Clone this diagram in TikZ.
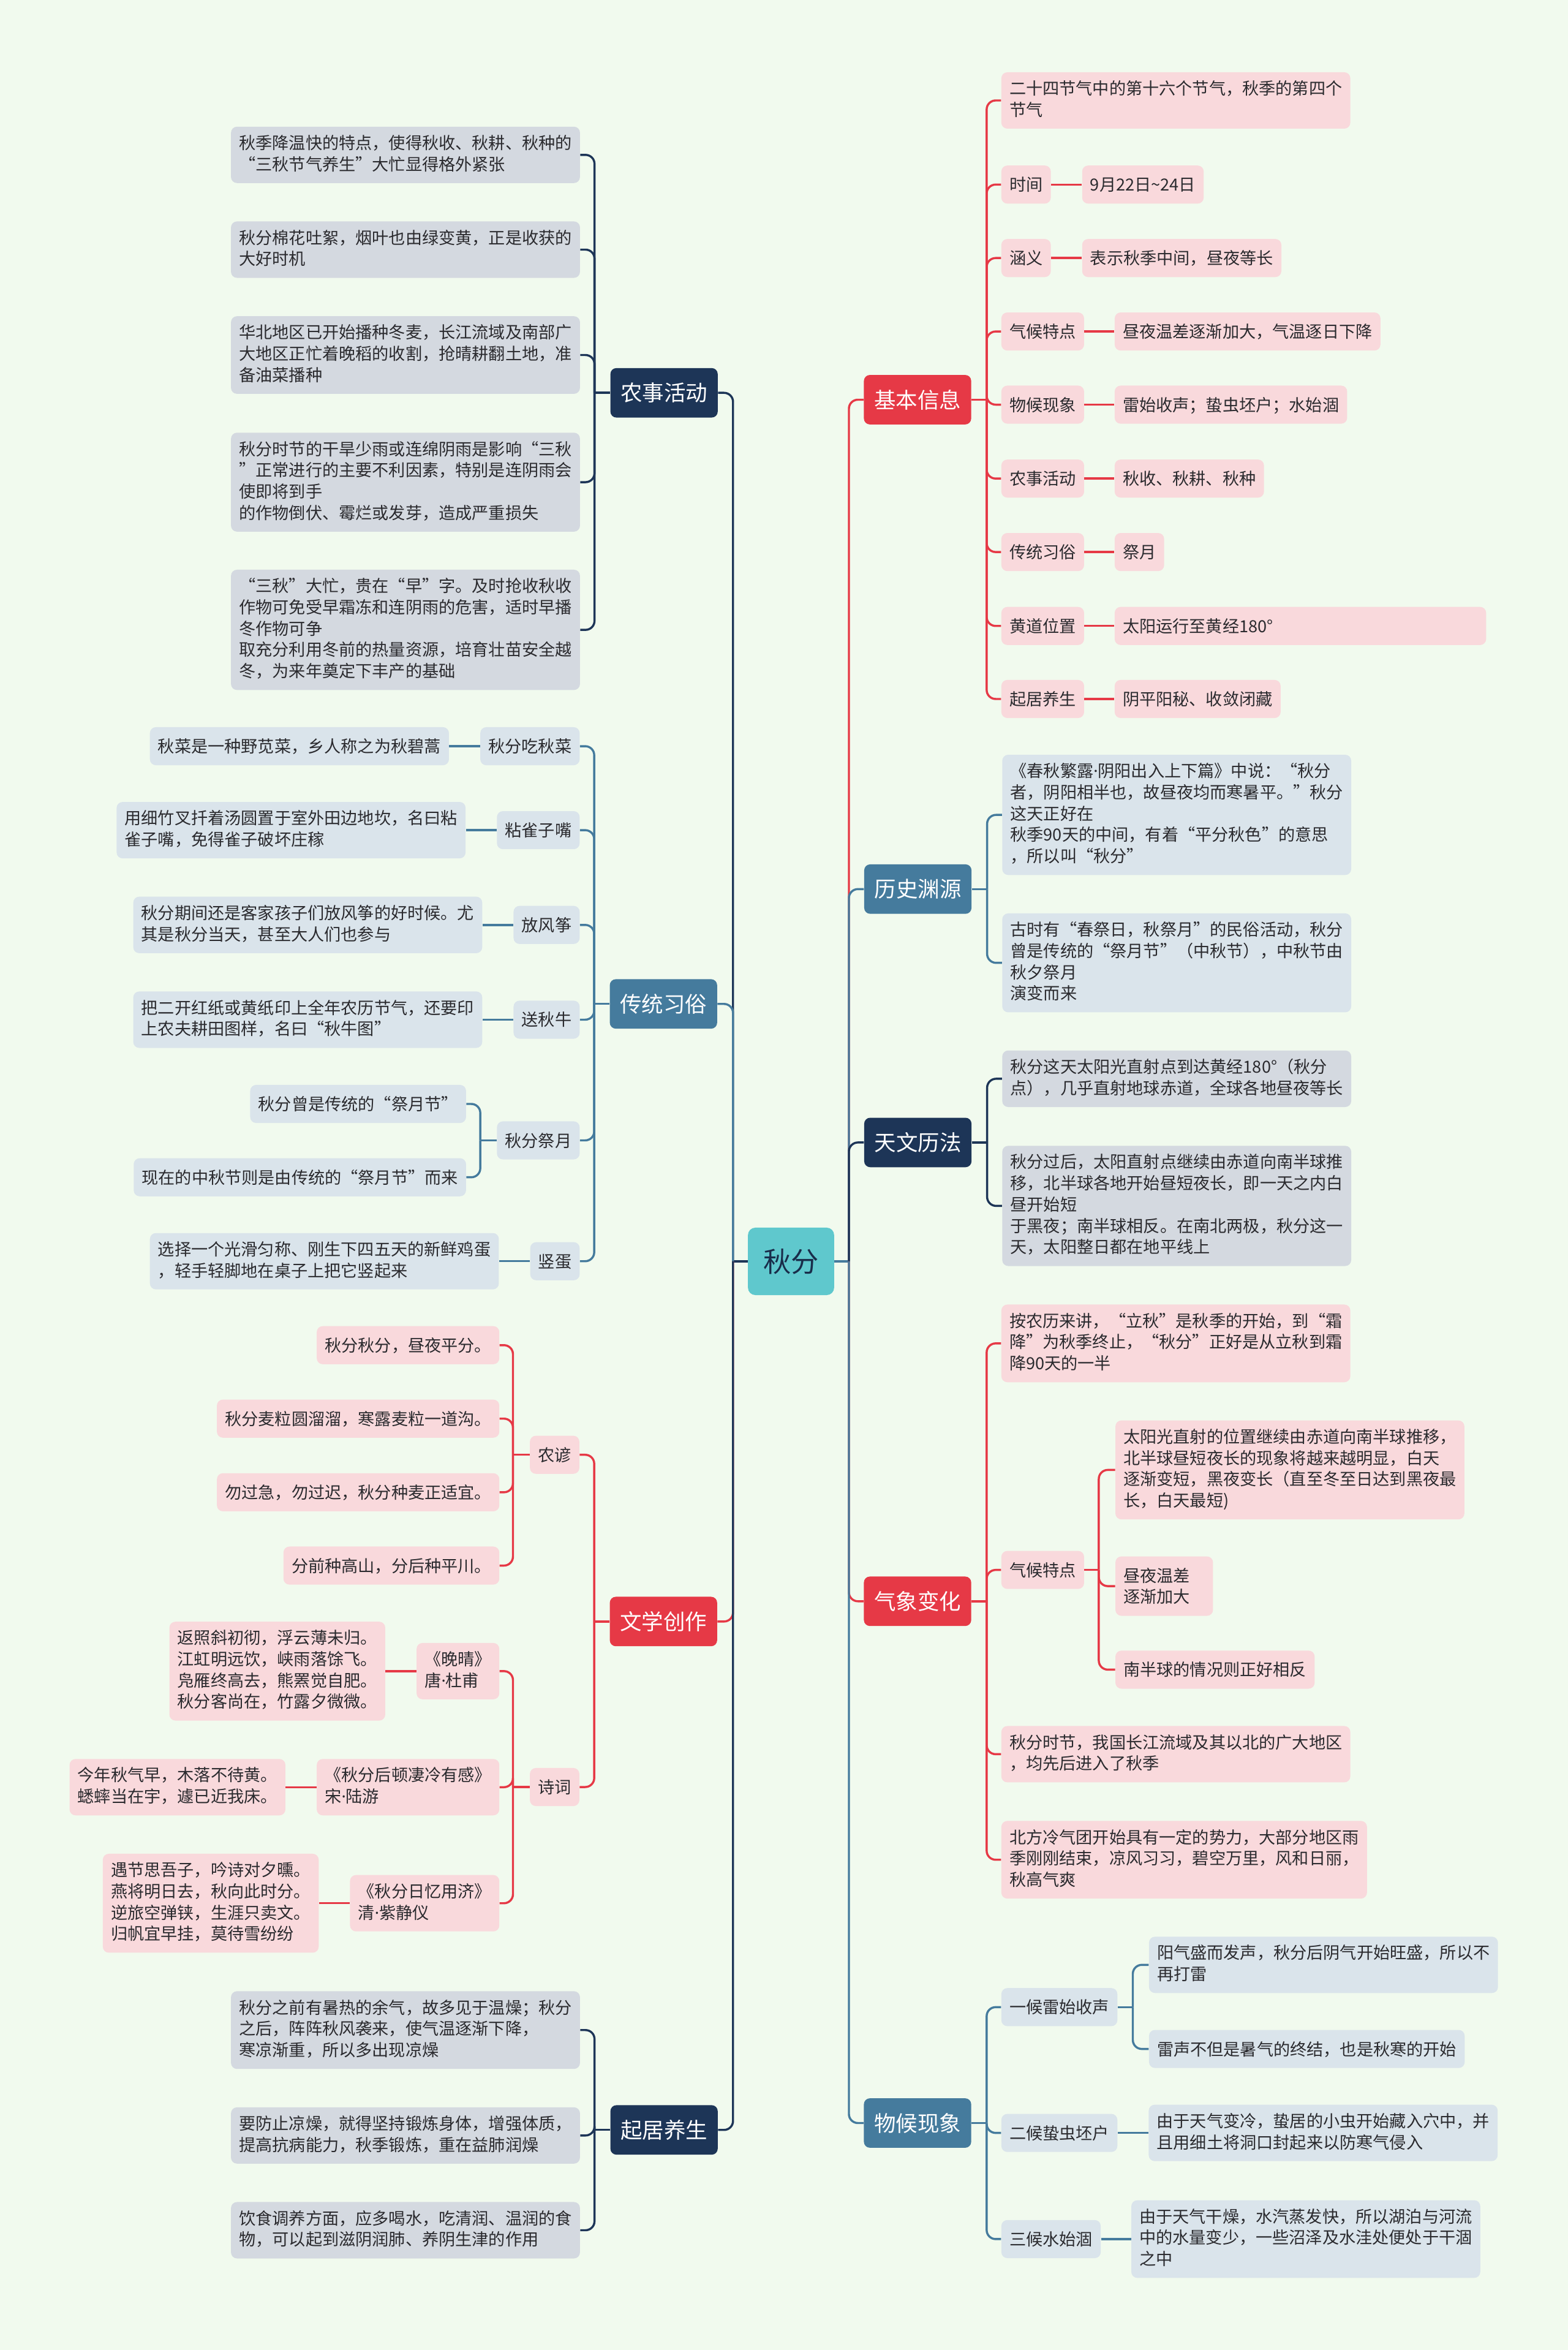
\documentclass[tikz,border=0pt]{standalone}
\usepackage{fontspec}
\setmainfont{Noto Sans CJK SC}
\newfontfamily\latinfont{Noto Sans}
\newcommand\middot{{\latinfont ·}}
\usepackage{tikz}
\usetikzlibrary{positioning}

\definecolor{bgc}{HTML}{F1FAEE}
\definecolor{redc}{HTML}{E63946}
\definecolor{navyc}{HTML}{1D3557}
\definecolor{steelc}{HTML}{457B9D}
\definecolor{rootc}{HTML}{5FC8CD}
\definecolor{pinkc}{HTML}{F9D9DC}
\definecolor{greyc}{HTML}{D4D9E0}
\definecolor{bluec}{HTML}{DAE4EB}
\definecolor{inkc}{HTML}{2A2A2E}

\tikzset{
  root/.style={fill=rootc, text=navyc!85!black, rounded corners=5pt, font=\fontsize{18.5}{22}\selectfont, minimum width=57.5pt, minimum height=45pt, inner sep=0pt},
  topic/.style={rounded corners=4pt, text=white, font=\fontsize{14.5}{17}\selectfont, minimum height=33pt, inner xsep=6.8pt, inner ysep=0pt},
  box/.style={rounded corners=4pt, text=inkc, font=\fontsize{11.1}{14.2}\selectfont, align=left, inner xsep=5.4pt, inner ysep=5.6pt, execute at begin node={\rule{0pt}{11.4pt}}, execute at end node={\rule[-2.8pt]{0pt}{2.8pt}}},
  pinkbox/.style={box, fill=pinkc},
  greybox/.style={box, fill=greyc},
  bluebox/.style={box, fill=bluec},
  redline/.style={draw=redc, line width=1.4pt},
  navyline/.style={draw=navyc, line width=1.4pt},
  steelline/.style={draw=steelc, line width=1.4pt}
}

\begin{document}
\begin{tikzpicture}[x=1pt, y=-1pt]
\fill[bgc] (0,0) rectangle (1046,1567.4);
\useasboundingbox (0,0) rectangle (1046,1567.4);

% centre and main topics
\node[root] (qf) at (527.7,841.3) {秋分};
\node[topic, fill=navyc, anchor=east] (ns) at (479,262) {农事活动};
\node[topic, fill=steelc, anchor=east] (ct) at (478.6,669.6) {传统习俗};
\node[topic, fill=redc, anchor=east] (wx) at (478.6,1081.5) {文学创作};
\node[topic, fill=navyc, anchor=east] (qj) at (479,1420.6) {起居养生};
\node[topic, fill=redc, anchor=west] (jb) at (576.1,266.6) {基本信息};
\node[topic, fill=steelc, anchor=west] (ls) at (576.3,593) {历史渊源};
\node[topic, fill=navyc, anchor=west] (tw) at (576.3,762) {天文历法};
\node[topic, fill=redc, anchor=west] (qx) at (576.1,1068) {气象变化};
\node[topic, fill=steelc, anchor=west] (wh) at (576.1,1416) {物候现象};

% 农事活动
\node[greybox, anchor=east] (ns1) at (387.1,103.3) {秋季降温快的特点，使得秋收、秋耕、秋种的\\“三秋节气养生”大忙显得格外紧张};
\node[greybox, anchor=east] (ns2) at (387.1,166.5) {秋分棉花吐絮，烟叶也由绿变黄，正是收获的\\大好时机};
\node[greybox, anchor=east] (ns3) at (387.1,236.8) {华北地区已开始播种冬麦，长江流域及南部广\\大地区正忙着晚稻的收割，抢晴耕翻土地，准\\备油菜播种};
\node[greybox, anchor=east] (ns4) at (387.1,321.6) {秋分时节的干旱少雨或连绵阴雨是影响“三秋\\”正常进行的主要不利因素，特别是连阴雨会\\使即将到手\\的作物倒伏、霉烂或发芽，造成严重损失};
\node[greybox, anchor=east] (ns5) at (387.1,420.1) {“三秋”大忙，贵在“早”字。及时抢收秋收\\作物可免受早霜冻和连阴雨的危害，适时早播\\冬作物可争\\取充分利用冬前的热量资源，培育壮苗安全越\\冬，为来年奠定下丰产的基础};

% 传统习俗
\node[bluebox, anchor=east] (ct1) at (386.9,497.7) {秋分吃秋菜};
\node[bluebox, left=20.5pt of ct1] (ct1a) {秋菜是一种野苋菜，乡人称之为秋碧蒿};
\node[bluebox, anchor=east] (ct2) at (386.9,553.7) {粘雀子嘴};
\node[bluebox, left=20.5pt of ct2] (ct2a) {用细竹叉扦着汤圆置于室外田边地坎，名曰粘\\雀子嘴，免得雀子破坏庄稼};
\node[bluebox, anchor=east] (ct3) at (386.9,616.9) {放风筝};
\node[bluebox, left=20.5pt of ct3] (ct3a) {秋分期间还是客家孩子们放风筝的好时候。尤\\其是秋分当天，甚至大人们也参与};
\node[bluebox, anchor=east] (ct4) at (386.9,680.1) {送秋牛};
\node[bluebox, left=20.5pt of ct4] (ct4a) {把二开红纸或黄纸印上全年农历节气，还要印\\上农夫耕田图样，名曰“秋牛图”};
\node[bluebox, anchor=east] (ct5) at (386.9,760.6) {秋分祭月};
\node[bluebox, anchor=east] (ct5a) at (311.1,736.3) {秋分曾是传统的“祭月节”};
\node[bluebox, anchor=east] (ct5b) at (311.1,785.2) {现在的中秋节则是由传统的“祭月节”而来};
\node[bluebox, anchor=east] (ct6) at (386.9,841.2) {竖蛋};
\node[bluebox, left=20.5pt of ct6] (ct6a) {选择一个光滑匀称、刚生下四五天的新鲜鸡蛋\\，轻手轻脚地在桌子上把它竖起来};

% 文学创作
\node[pinkbox, anchor=east] (wx1) at (386.7,970.3) {农谚};
\node[pinkbox, anchor=east] (wx1a) at (333.3,897.2) {秋分秋分，昼夜平分。};
\node[pinkbox, anchor=east] (wx1b) at (333.3,946.2) {秋分麦粒圆溜溜，寒露麦粒一道沟。};
\node[pinkbox, anchor=east] (wx1c) at (333.3,995.3) {勿过急，勿过迟，秋分种麦正适宜。};
\node[pinkbox, anchor=east] (wx1d) at (333.3,1044.2) {分前种高山，分后种平川。};
\node[pinkbox, anchor=east] (wx2) at (386.7,1191.9) {诗词};
\node[pinkbox, anchor=east] (wx2a) at (333.3,1114.6) {《晚晴》\\唐\middot 杜甫};
\node[pinkbox, left=20.5pt of wx2a] (poem1) {返照斜初彻，浮云薄未归。\\江虹明远饮，峡雨落馀飞。\\凫雁终高去，熊罴觉自肥。\\秋分客尚在，竹露夕微微。};
\node[pinkbox, anchor=east] (wx2b) at (333.3,1192) {《秋分后顿凄冷有感》\\宋\middot 陆游};
\node[pinkbox, left=20.5pt of wx2b] (poem2) {今年秋气早，木落不待黄。\\蟋蟀当在宇，遽已近我床。};
\node[pinkbox, anchor=east] (wx2c) at (333.3,1269.4) {《秋分日忆用济》\\清\middot 紫静仪};
\node[pinkbox, left=20.5pt of wx2c] (poem3) {遇节思吾子，吟诗对夕曛。\\燕将明日去，秋向此时分。\\逆旅空弹铗，生涯只卖文。\\归帆宜早挂，莫待雪纷纷};

% 起居养生
\node[greybox, anchor=east] (qj1) at (387.1,1354) {秋分之前有暑热的余气，故多见于温燥；秋分\\之后，阵阵秋风袭来，使气温逐渐下降，\\寒凉渐重，所以多出现凉燥};
\node[greybox, anchor=east] (qj2) at (387.1,1424.3) {要防止凉燥，就得坚持锻炼身体，增强体质，\\提高抗病能力，秋季锻炼，重在益肺润燥};
\node[greybox, anchor=east] (qj3) at (387.1,1487.5) {饮食调养方面，应多喝水，吃清润、温润的食\\物，可以起到滋阴润肺、养阴生津的作用};

% 基本信息
\node[pinkbox, anchor=west] (jb0) at (667.8,67) {二十四节气中的第十六个节气，秋季的第四个\\节气};
\node[pinkbox, anchor=west] (jb1) at (667.8,123.1) {时间};
\node[pinkbox, right=20.5pt of jb1] (jb1a) {9月22日\textasciitilde24日};
\node[pinkbox, anchor=west] (jb2) at (667.8,172.1) {涵义};
\node[pinkbox, right=20.5pt of jb2] (jb2a) {表示秋季中间，昼夜等长};
\node[pinkbox, anchor=west] (jb3) at (667.8,221.1) {气候特点};
\node[pinkbox, right=20pt of jb3] (jb3a) {昼夜温差逐渐加大，气温逐日下降};
\node[pinkbox, anchor=west] (jb4) at (667.8,269.9) {物候现象};
\node[pinkbox, right=20pt of jb4] (jb4a) {雷始收声；蛰虫坯户；水始涸};
\node[pinkbox, anchor=west] (jb5) at (667.8,319.2) {农事活动};
\node[pinkbox, right=20pt of jb5] (jb5a) {秋收、秋耕、秋种};
\node[pinkbox, anchor=west] (jb6) at (667.8,368.2) {传统习俗};
\node[pinkbox, right=20pt of jb6] (jb6a) {祭月};
\node[pinkbox, anchor=west] (jb7) at (667.8,417.5) {黄道位置};
\node[pinkbox, right=20pt of jb7, text width=237pt] (jb7a) {太阳运行至黄经180°};
\node[pinkbox, anchor=west] (jb8) at (667.8,466.2) {起居养生};
\node[pinkbox, right=20pt of jb8] (jb8a) {阴平阳秘、收敛闭藏};

% 历史渊源 / 天文历法
\node[bluebox, anchor=west] (ls1) at (668.4,543.5) {《春秋繁露\middot 阴阳出入上下篇》中说：“秋分\\者，阴阳相半也，故昼夜均而寒暑平。”秋分\\这天正好在\\秋季90天的中间，有着“平分秋色”的意思\\，所以叫“秋分”};
\node[bluebox, anchor=west] (ls2) at (668.4,642.2) {古时有“春祭日，秋祭月”的民俗活动，秋分\\曾是传统的“祭月节”（中秋节），中秋节由\\秋夕祭月\\演变而来};
\node[greybox, anchor=west] (tw1) at (668.4,719.5) {秋分这天太阳光直射点到达黄经180°（秋分\\点），几乎直射地球赤道，全球各地昼夜等长};
\node[greybox, anchor=west] (tw2) at (668.4,804.3) {秋分过后，太阳直射点继续由赤道向南半球推\\移，北半球各地开始昼短夜长，即一天之内白\\昼开始短\\于黑夜；南半球相反。在南北两极，秋分这一\\天，太阳整日都在地平线上};

% 气象变化
\node[pinkbox, anchor=west] (qx1) at (667.8,896) {按农历来讲，“立秋”是秋季的开始，到“霜\\降”为秋季终止，“秋分”正好是从立秋到霜\\降90天的一半};
\node[pinkbox, anchor=west] (qx2) at (667.8,1047.1) {气候特点};
\node[pinkbox, anchor=west] (qx2a) at (743.9,980.4) {太阳光直射的位置继续由赤道向南半球推移，\\北半球昼短夜长的现象将越来越明显，白天\\逐渐变短，黑夜变长（直至冬至日达到黑夜最\\长，白天最短)};
\node[pinkbox, anchor=west, text width=54.3pt] (qx2b) at (743.9,1057.9) {昼夜温差\\逐渐加大};
\node[pinkbox, anchor=west] (qx2c) at (743.9,1113.6) {南半球的情况则正好相反};
\node[pinkbox, anchor=west] (qx3) at (667.8,1170) {秋分时节，我国长江流域及其以北的广大地区\\，均先后进入了秋季};
\node[pinkbox, anchor=west] (qx4) at (667.8,1240.4) {北方冷气团开始具有一定的势力，大部分地区雨\\季刚刚结束，凉风习习，碧空万里，风和日丽，\\秋高气爽};

% 物候现象
\node[bluebox, anchor=west] (wh1) at (667.8,1338.7) {一候雷始收声};
\node[bluebox, anchor=west] (wh1a) at (766.3,1310.5) {阳气盛而发声，秋分后阴气开始旺盛，所以不\\再打雷};
\node[bluebox, anchor=west] (wh1b) at (766.3,1366.6) {雷声不但是暑气的终结，也是秋寒的开始};
\node[bluebox, anchor=west] (wh2) at (667.8,1422.6) {二候蛰虫坯户};
\node[bluebox, right=20.5pt of wh2] (wh2a) {由于天气变冷，蛰居的小虫开始藏入穴中，并\\且用细土将洞口封起来以防寒气侵入};
\node[bluebox, anchor=west] (wh3) at (667.8,1493.4) {三候水始涸};
\node[bluebox, right=20pt of wh3] (wh3a) {由于天气干燥，水汽蒸发快，所以湖泊与河流\\中的水量变少，一些沼泽及水洼处便处于干涸\\之中};

% trunk from the centre
\coordinate (lt) at (489,841.3);
\coordinate (rt) at (566.3,841.3);
\draw[navyline] (qf.west) -- (lt);
\draw[navyline, rounded corners=6pt] (lt) |- (ns.east);
\draw[steelline, rounded corners=6pt] (lt) |- (ct.east);
\draw[redline, rounded corners=6pt] (lt) |- (wx.east);
\draw[navyline, rounded corners=6pt] (lt) |- (qj.east);
\draw[steelline] (qf.east) -- (rt);
\draw[redline, rounded corners=6pt] (rt) |- (jb.west);
\draw[steelline, rounded corners=6pt] (rt) |- (ls.west);
\draw[navyline, rounded corners=6pt] (rt) |- (tw.west);
\draw[redline, rounded corners=6pt] (rt) |- (qx.west);
\draw[steelline, rounded corners=6pt] (rt) |- (wh.west);

% left brackets
\draw[navyline] (ns.west) -- ++(-10.4,0) coordinate (nsj);
\foreach \k in {ns1,ns2,ns3,ns4,ns5}
  \draw[navyline, rounded corners=6pt] (nsj) |- (\k.east);
\draw[steelline] (ct.west) -- ++(-10.2,0) coordinate (ctj);
\foreach \k in {ct1,ct2,ct3,ct4,ct5,ct6}
  \draw[steelline, rounded corners=6pt] (ctj) |- (\k.east);
\foreach \k in {ct1,ct2,ct3,ct4,ct6}
  \draw[steelline] (\k.west) -- (\k a.east);
\draw[steelline] (ct5.west) -- ++(-10.9,0) coordinate (ct5j);
\foreach \k in {ct5a,ct5b}
  \draw[steelline, rounded corners=6pt] (ct5j) |- (\k.east);
\draw[redline] (wx.west) -- ++(-10.2,0) coordinate (wxj);
\foreach \k in {wx1,wx2}
  \draw[redline, rounded corners=6pt] (wxj) |- (\k.east);
\draw[redline] (wx1.west) -- ++(-11.1,0) coordinate (wx1j);
\foreach \k in {wx1a,wx1b,wx1c,wx1d}
  \draw[redline, rounded corners=6pt] (wx1j) |- (\k.east);
\draw[redline] (wx2.west) -- ++(-11.1,0) coordinate (wx2j);
\foreach \k in {wx2a,wx2b,wx2c}
  \draw[redline, rounded corners=6pt] (wx2j) |- (\k.east);
\draw[redline] (wx2a.west) -- (poem1.east);
\draw[redline] (wx2b.west) -- (poem2.east);
\draw[redline] (wx2c.west) -- (poem3.east);
\draw[navyline] (qj.west) -- ++(-10.4,0) coordinate (qjj);
\foreach \k in {qj1,qj2,qj3}
  \draw[navyline, rounded corners=6pt] (qjj) |- (\k.east);

% right brackets
\draw[redline] (jb.east) -- ++(10.1,0) coordinate (jbj);
\foreach \k in {jb0,jb1,jb2,jb3,jb4,jb5,jb6,jb7,jb8}
  \draw[redline, rounded corners=6pt] (jbj) |- (\k.west);
\foreach \k in {jb1,jb2,jb3,jb4,jb5,jb6,jb7,jb8}
  \draw[redline] (\k.east) -- (\k a.west);
\draw[steelline] (ls.east) -- ++(10.2,0) coordinate (lsj);
\foreach \k in {ls1,ls2}
  \draw[steelline, rounded corners=6pt] (lsj) |- (\k.west);
\draw[navyline] (tw.east) -- ++(10.2,0) coordinate (twj);
\foreach \k in {tw1,tw2}
  \draw[navyline, rounded corners=6pt] (twj) |- (\k.west);
\draw[redline] (qx.east) -- ++(10.1,0) coordinate (qxj);
\foreach \k in {qx1,qx2,qx3,qx4}
  \draw[redline, rounded corners=6pt] (qxj) |- (\k.west);
\draw[redline] (qx2.east) -- ++(9.6,0) coordinate (qx2j);
\foreach \k in {qx2a,qx2b,qx2c}
  \draw[redline, rounded corners=6pt] (qx2j) |- (\k.west);
\draw[steelline] (wh.east) -- ++(10.1,0) coordinate (whj);
\foreach \k in {wh1,wh2,wh3}
  \draw[steelline, rounded corners=6pt] (whj) |- (\k.west);
\draw[steelline] (wh1.east) -- ++(10.1,0) coordinate (wh1j);
\foreach \k in {wh1a,wh1b}
  \draw[steelline, rounded corners=6pt] (wh1j) |- (\k.west);
\draw[steelline] (wh2.east) -- (wh2a.west);
\draw[steelline] (wh3.east) -- (wh3a.west);
\end{tikzpicture}
\end{document}
